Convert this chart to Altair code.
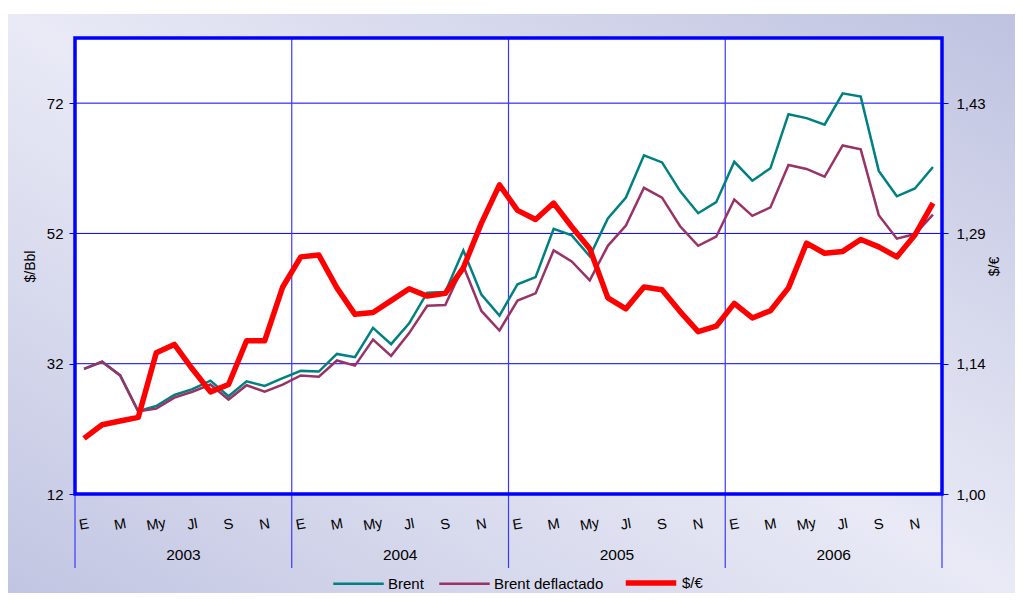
import altair as alt
import pandas as pd

# ---------------- data ----------------
month_labels = ["E", "M", "My", "Jl", "S", "N"]
years = ["2003", "2004", "2005", "2006"]

brent = [31.2, 32.3, 30.2, 24.7, 25.5, 27.2, 28.1, 29.4, 27.0, 29.3, 28.6, 29.8,
         30.9, 30.8, 33.5, 33.0, 37.5, 35.0, 38.2, 42.9, 43.0, 49.4, 42.6, 39.4,
         44.2, 45.3, 52.7, 51.7, 48.5, 54.3, 57.5, 64.0, 62.9, 58.5, 55.1, 56.8,
         63.0, 60.1, 62.0, 70.3, 69.7, 68.7, 73.5, 73.0, 61.6, 57.7, 58.9, 62.2]

deflactado = [31.2, 32.3, 30.2, 24.7, 25.1, 26.8, 27.7, 28.8, 26.5, 28.7, 27.7, 28.8,
              30.2, 30.0, 32.5, 31.7, 35.7, 33.2, 36.7, 40.9, 41.0, 47.0, 40.1, 37.1,
              41.7, 42.8, 49.4, 47.7, 44.8, 50.1, 53.2, 59.0, 57.5, 53.1, 50.1, 51.5,
              57.2, 54.7, 56.0, 62.5, 61.9, 60.7, 65.5, 64.9, 54.8, 51.2, 51.9, 54.9]

usd_eur = [1.061, 1.076, 1.080, 1.084, 1.155, 1.164, 1.137, 1.112, 1.120, 1.168, 1.168, 1.227,
           1.260, 1.262, 1.226, 1.197, 1.199, 1.212, 1.225, 1.217, 1.220, 1.248, 1.297, 1.339,
           1.311, 1.301, 1.319, 1.293, 1.269, 1.215, 1.203, 1.227, 1.224, 1.200, 1.178, 1.184,
           1.209, 1.193, 1.201, 1.226, 1.275, 1.264, 1.266, 1.279, 1.271, 1.260, 1.284, 1.319]

series_names = ["Brent", "Brent deflactado", "$/€"]
series_colors = ["#008080", "#993366", "#ff0000"]
series_widths = [2.5, 2.5, 5.5]

left_domain = [12, 82]
right_domain = [1.0, 1.5]
left_ticks = [12, 32, 52, 72]
right_ticks = [1.0, 1 + 1 / 7, 1 + 2 / 7, 1 + 3 / 7]
year_bounds = [0, 12, 24, 36, 48]

W, H = 867, 456
PAD_L, PAD_T, PAD_R, PAD_B = 67, 30, 73, 99
FONT = "Liberation Sans"
BLUE = "#0000ff"

# ---------------- tables ----------------
n = len(brent)
oil = pd.DataFrame({
    "pos": [i + 0.5 for i in range(n)] * 2,
    "valor": brent + deflactado,
    "serie": [series_names[0]] * n + [series_names[1]] * n,
})
fx = pd.DataFrame({
    "pos": [i + 0.5 for i in range(n)],
    "valor": usd_eur,
    "serie": [series_names[2]] * n,
})
mlab = pd.DataFrame({
    "pos": [i + 0.5 for i in range(0, n, 2)],
    "lab": [month_labels[(i // 2) % 6] for i in range(0, n, 2)],
})
ylab = pd.DataFrame({"pos": [6 + 12 * k for k in range(4)], "lab": years})
bounds = pd.DataFrame({"b": year_bounds})
grid = pd.DataFrame({"g": left_ticks[1:]})
one = pd.DataFrame({"a": [0]})

xs = alt.Scale(domain=[0, 48], nice=False, zero=False)
yl = alt.Scale(domain=left_domain, nice=False, zero=False)
yr = alt.Scale(domain=right_domain, nice=False, zero=False)

legend = alt.Legend(
    orient="none", legendX=257, legendY=517, direction="horizontal", title=None,
    symbolType="stroke", symbolSize=2550, labelFontSize=15, labelFont=FONT,
    labelColor="#000000", columnPadding=10, labelOffset=3, symbolOpacity=1,
)
color_enc = alt.Color("serie:N", scale=alt.Scale(type="ordinal", domain=series_names,
                                                 range=series_colors),
                      sort=series_names, legend=legend)
width_enc = alt.StrokeWidth("serie:N", scale=alt.Scale(type="ordinal", domain=series_names,
                                                       range=series_widths),
                            sort=series_names, legend=legend)

# background gradient panel
bg = alt.Chart(one).mark_rect(
    fill={"gradient": "linear", "x1": 0, "y1": 1, "x2": 1, "y2": 0,
          "stops": [{"offset": 0, "color": "#c2c5e2"},
                    {"offset": 0.5, "color": "#e9eaf6"},
                    {"offset": 1, "color": "#bfc2e0"}]},
).encode(x=alt.value(-PAD_L), x2=alt.value(W + PAD_R), y=alt.value(-PAD_T + 6),
         y2=alt.value(H + PAD_B))

plot_bg = alt.Chart(one).mark_rect(fill="white").encode(
    x=alt.value(0), x2=alt.value(W), y=alt.value(0), y2=alt.value(H))

hgrid = alt.Chart(grid).mark_rule(color=BLUE, stroke=BLUE, strokeWidth=1).encode(
    y=alt.Y("g:Q", scale=yl, axis=None), x=alt.value(0), x2=alt.value(W))

vlines = alt.Chart(bounds).mark_rule(color="#3a3aff", strokeWidth=1.2).encode(
    x=alt.X("b:Q", scale=xs, axis=None), y=alt.value(0), y2=alt.value(H + 74))

oil_lines = alt.Chart(oil).mark_line(strokeJoin="miter").encode(
    x=alt.X("pos:Q", scale=xs, axis=None),
    y=alt.Y("valor:Q", scale=yl, axis=alt.Axis(
        values=left_ticks, grid=False, gridColor=BLUE, domain=False, tickColor=BLUE,
        tickSize=6, tickWidth=1,
        labelFontSize=15, labelFont=FONT, labelColor="#000000", labelPadding=6,
        title="$/Bbl", titleFont=FONT, titleFontSize=14, titleFontWeight="normal",
        titleColor="#000000", titlePadding=9, zindex=2)),
    color=color_enc, strokeWidth=width_enc, detail="serie:N",
)

fx_line = alt.Chart(fx).mark_line(strokeJoin="round").encode(
    x=alt.X("pos:Q", scale=xs, axis=None),
    y=alt.Y("valor:Q", scale=yr, axis=alt.Axis(
        orient="right", values=right_ticks, grid=False, gridColor=BLUE, domain=False,
        tickColor=BLUE, tickSize=6, tickWidth=1, labelFontSize=15, labelFont=FONT,
        labelColor="#000000", labelPadding=8,
        labelExpr="replace(format(datum.value, '.2f'), '.', ',')",
        title="$/€", titleFont=FONT, titleFontSize=14, titleFontWeight="normal",
        titleColor="#000000", titleAngle=270, titlePadding=16, zindex=2)),
    color=color_enc, strokeWidth=width_enc,
)

border = alt.Chart(one).mark_rect(fill=None, stroke=BLUE, strokeWidth=3.5).encode(
    x=alt.value(0), x2=alt.value(W), y=alt.value(0), y2=alt.value(H))

mtext = alt.Chart(mlab).mark_text(font=FONT, fontSize=14.5, color="#000000", angle=350,
                                  baseline="middle").encode(
    x=alt.X("pos:Q", scale=xs, axis=None), y=alt.value(H + 31), text="lab:N")

ytext = alt.Chart(ylab).mark_text(font=FONT, fontSize=15.5, color="#000000",
                                  baseline="middle").encode(
    x=alt.X("pos:Q", scale=xs, axis=None), y=alt.value(H + 61), text="lab:N")

chart = alt.layer(
    bg, plot_bg, hgrid, vlines, oil_lines, fx_line, border, mtext, ytext
).resolve_scale(y="independent").properties(
    width=W, height=H,
    autosize=alt.AutoSizeParams(type="none"),
    padding={"left": PAD_L, "top": PAD_T, "right": PAD_R, "bottom": PAD_B},
    background="white",
).configure_view(stroke=None)

chart.save("out.html", embed_options={"renderer": "svg", "actions": False})
